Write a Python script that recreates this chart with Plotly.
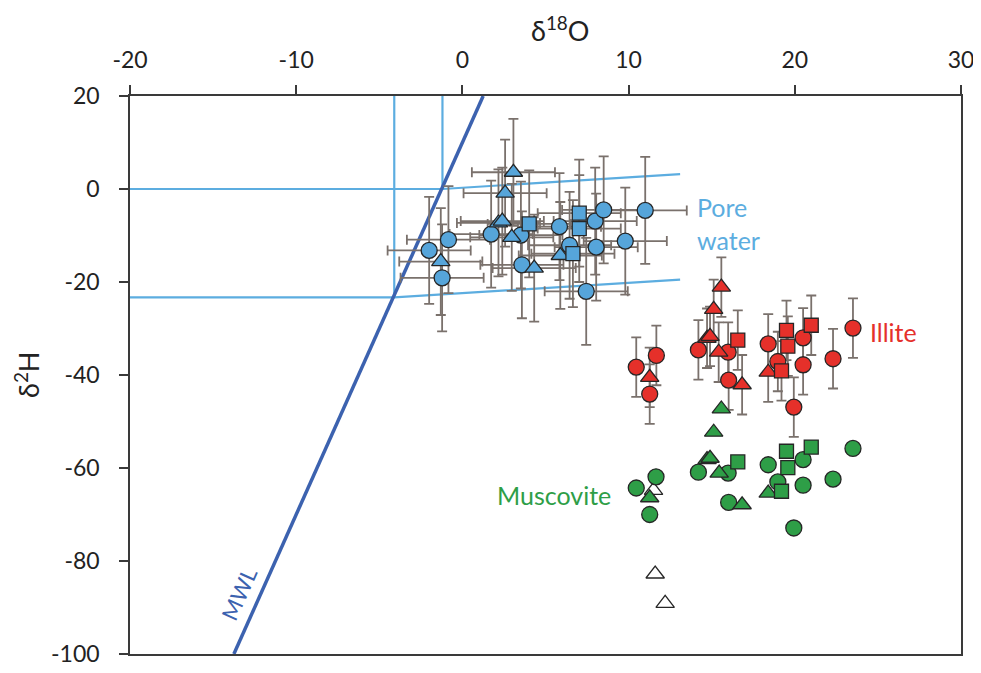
import plotly.graph_objects as go

# ---------------- data ----------------
# Pore water (blue) – circles, triangles, squares
pw_circle_x = [-2.0, -0.84, -1.22, 1.73, 3.52, 3.58, 5.84, 6.45, 7.99, 8.5, 8.05, 9.8, 11.0, 7.45]
pw_circle_y = [-13.2, -10.9, -19.1, -9.7, -9.9, -16.3, -8.1, -12.1, -6.9, -4.5, -12.5, -11.2, -4.6, -22.0]
pw_tri_x = [3.07, 2.57, 2.17, 2.4, 2.97, -1.3, 4.32, 5.89]
pw_tri_y = [3.6, -0.9, -7.3, -6.9, -10.4, -15.6, -17.0, -14.3]
pw_sq_x = [4.02, 7.03, 7.03, 6.65]
pw_sq_y = [-7.5, -5.2, -8.5, -13.9]
pw_xerr = 2.5
pw_yerr = 11.5

# Illite (red)
il_circle_x = [10.46, 11.67, 11.27, 14.2, 15.99, 16.02, 18.4, 18.98, 20.5, 20.5, 19.94, 22.3, 23.5]
il_circle_y = [-38.3, -35.8, -44.1, -34.6, -35.1, -41.1, -33.3, -37.1, -32.0, -37.8, -46.9, -36.5, -29.9]
il_tri_x = [15.58, 15.12, 14.72, 14.9, 11.27, 15.42, 16.83, 18.4]
il_tri_y = [-21.1, -25.9, -32.1, -31.7, -40.5, -35.1, -42.1, -39.4]
il_sq_x = [16.57, 19.5, 19.58, 20.99, 19.2]
il_sq_y = [-32.5, -30.4, -33.8, -29.3, -39.1]
il_yerr = 6.4

# Muscovite (green)
mu_circle_x = [10.46, 11.65, 11.27, 14.2, 15.99, 16.02, 18.4, 18.98, 20.5, 20.5, 19.94, 22.3, 23.5]
mu_circle_y = [-64.3, -61.9, -70.0, -60.9, -61.1, -67.4, -59.3, -63.0, -58.2, -63.7, -72.9, -62.4, -55.8]
mu_tri_x = [15.58, 15.12, 14.72, 14.9, 11.27, 15.45, 16.83, 18.4]
mu_tri_y = [-47.3, -52.3, -58.2, -57.9, -66.4, -61.1, -67.9, -65.4]
mu_sq_x = [16.57, 19.5, 19.58, 20.99, 19.2]
mu_sq_y = [-58.7, -56.4, -59.9, -55.5, -65.0]

# Open triangles
open_tri_x = [11.5, 11.6, 12.2]
open_tri_y = [-64.8, -82.8, -89.1]

# Meteoric water line: dD = 8 d18O + 10
mwl_slope = 8.0
mwl_intercept = 10.0
mwl_y_range = [-100, 20]

# Pore-water envelope lines
pw_left_x = -4.1
pw_right_x = -1.2
pw_low_y = -23.3
pw_high_y = 0.0
pw_upper_end = [13.1, 3.2]
pw_lower_end = [13.1, -19.5]

x_ticks = [-20, -10, 0, 10, 20, 30]
x_tick_labels = ["-20", "-10", "0", "10", "20", "30"]
y_ticks = [20, 0, -20, -40, -60, -80, -100]
y_tick_labels = ["20", "0", "-20", "-40", "-60", "-80", "-100"]

# ---------------- styles ----------------
BLUE = "#56A5DA"
RED = "#E5302A"
GREEN = "#2E9E47"
LINE_BLUE = "#5CADE0"
MWL_BLUE = "#3C62AF"
ERR = "#7A716C"
EDGE = "#262626"
FONT = "Lato"

fig = go.Figure()

# envelope lines
fig.add_trace(go.Scatter(x=[pw_left_x, pw_left_x], y=[20, pw_low_y], mode="lines",
                         line=dict(color=LINE_BLUE, width=2.2), hoverinfo="skip"))
fig.add_trace(go.Scatter(x=[pw_right_x, pw_right_x], y=[20, pw_high_y], mode="lines",
                         line=dict(color=LINE_BLUE, width=2.2), hoverinfo="skip"))
fig.add_trace(go.Scatter(x=[-20, pw_right_x, pw_upper_end[0]], y=[pw_high_y, pw_high_y, pw_upper_end[1]],
                         mode="lines", line=dict(color=LINE_BLUE, width=2.2), hoverinfo="skip"))
fig.add_trace(go.Scatter(x=[-20, pw_left_x, pw_lower_end[0]], y=[pw_low_y, pw_low_y, pw_lower_end[1]],
                         mode="lines", line=dict(color=LINE_BLUE, width=2.2), hoverinfo="skip"))

# MWL
mwl_x = [(y - mwl_intercept) / mwl_slope for y in mwl_y_range]
fig.add_trace(go.Scatter(x=mwl_x, y=mwl_y_range, mode="lines",
                         line=dict(color=MWL_BLUE, width=3.5), hoverinfo="skip"))

# error bars first (invisible markers)
def err_trace(x, y, xe, ye):
    n = len(x)
    kw = {}
    if xe is not None:
        kw["error_x"] = dict(type="data", array=[xe] * n, color=ERR, thickness=1.8, width=5)
    if ye is not None:
        kw["error_y"] = dict(type="data", array=[ye] * n, color=ERR, thickness=1.8, width=5)
    return go.Scatter(x=x, y=y, mode="markers", marker=dict(color="rgba(0,0,0,0)", size=2),
                      hoverinfo="skip", **kw)

for xs, ys in [(pw_circle_x, pw_circle_y), (pw_tri_x, pw_tri_y), (pw_sq_x, pw_sq_y)]:
    fig.add_trace(err_trace(xs, ys, pw_xerr, pw_yerr))
for xs, ys in [(il_circle_x, il_circle_y), (il_tri_x, il_tri_y), (il_sq_x, il_sq_y)]:
    fig.add_trace(err_trace(xs, ys, None, il_yerr))

def mk(x, y, color, symbol, size):
    return go.Scatter(x=x, y=y, mode="markers",
                      marker=dict(color=color, symbol=symbol, size=size,
                                  line=dict(color=EDGE, width=1.3)))

fig.add_trace(mk(open_tri_x, open_tri_y, "white", "triangle-up", 16))
for color, groups in [(BLUE, [(pw_circle_x, pw_circle_y), (pw_tri_x, pw_tri_y), (pw_sq_x, pw_sq_y)]),
                      (RED, [(il_circle_x, il_circle_y), (il_tri_x, il_tri_y), (il_sq_x, il_sq_y)]),
                      (GREEN, [(mu_circle_x, mu_circle_y), (mu_tri_x, mu_tri_y), (mu_sq_x, mu_sq_y)])]:
    fig.add_trace(mk(groups[0][0], groups[0][1], color, "circle", 16))
    fig.add_trace(mk(groups[1][0], groups[1][1], color, "triangle-up", 16))
    fig.add_trace(mk(groups[2][0], groups[2][1], color, "square", 14))

# labels
fig.add_annotation(x=14.0, y=-7.4, text="Pore<br>water", showarrow=False, xanchor="left",
                   align="left", font=dict(family=FONT, size=25, color=LINE_BLUE))
fig.add_annotation(x=24.4, y=-30.8, text="Illite", showarrow=False, xanchor="left",
                   font=dict(family=FONT, size=25, color=RED))
fig.add_annotation(x=9.08, y=-65.7, text="Muscovite", showarrow=False, xanchor="right",
                   font=dict(family=FONT, size=25, color=GREEN))
fig.add_annotation(x=-13.45, y=-86.9, text="MWL", showarrow=False, textangle=-65.9,
                   font=dict(family=FONT, size=22, color=MWL_BLUE))

# plot area (page pixels: 130..961 x 96..654; page body has 8px offset)
PL, PT, PW, PH = 122, 88, 831, 558

# axis titles
fig.add_annotation(xref="paper", yref="paper", x=(560 - 130) / PW, y=1 + (96 - 29) / PH,
                   xanchor="center", yanchor="middle",
                   text="δ<sup>18</sup>O", showarrow=False,
                   font=dict(family=FONT, size=27, color="#222"))
fig.add_annotation(xref="paper", yref="paper", x=-(130 - 27) / PW, y=(654 - 375) / PH,
                   xanchor="center", yanchor="middle",
                   text="δ<sup>2</sup>H", showarrow=False, textangle=-90,
                   font=dict(family=FONT, size=27, color="#222"))

axis_common = dict(showgrid=False, zeroline=False, showline=True, linecolor="#3a3a3a",
                   linewidth=1.5, mirror=True, ticks="outside", ticklen=9, tickwidth=1.5,
                   tickcolor="#3a3a3a", automargin=False,
                   tickfont=dict(family=FONT, size=23, color="#222"))

fig.update_layout(
    width=973, height=665,
    margin=dict(l=PL, r=973 - PL - PW, t=PT, b=665 - PT - PH),
    paper_bgcolor="white", plot_bgcolor="white",
    showlegend=False,
    xaxis=dict(range=[-20, 30], side="top", tickvals=x_ticks, ticktext=x_tick_labels,
               ticklabelstandoff=8, **axis_common),
    yaxis=dict(range=[-100, 20], tickvals=y_ticks, ticktext=y_tick_labels,
               ticklabelstandoff=15, **axis_common),
)

fig.write_html("out.html")
